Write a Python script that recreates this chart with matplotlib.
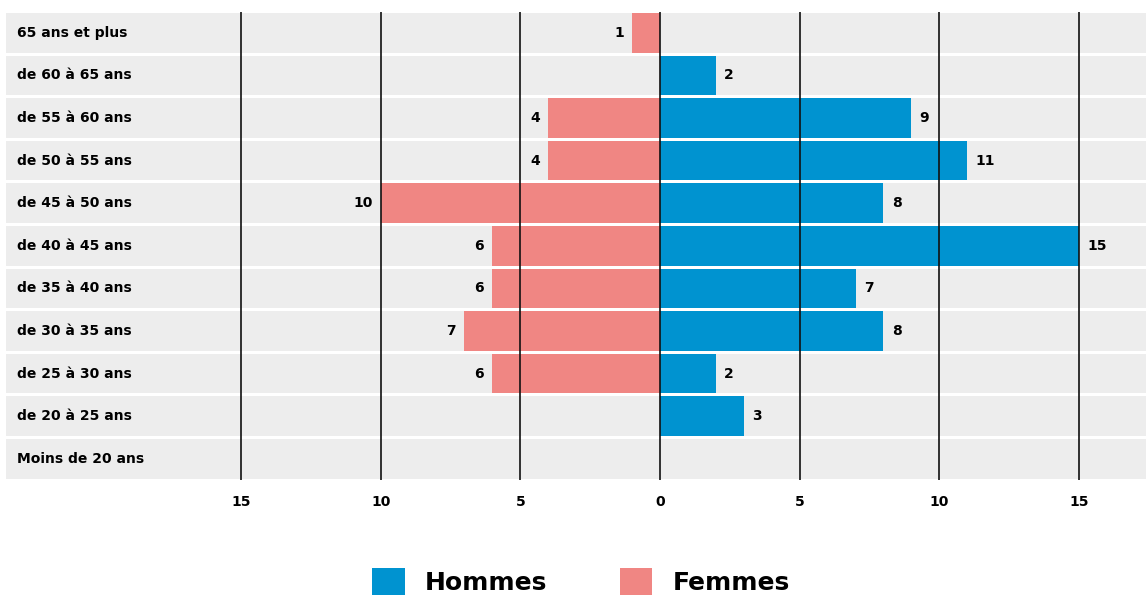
import matplotlib
matplotlib.use("Agg")
import matplotlib.pyplot as plt
from matplotlib.patches import Patch
from matplotlib.transforms import blended_transform_factory

plt.rcParams['font.family'] = ['DejaVu Sans']
plt.rcParams['font.weight'] = 'bold'

# age groups, top to bottom
categories = ["65 ans et plus", "de 60 à 65 ans", "de 55 à 60 ans", "de 50 à 55 ans",
              "de 45 à 50 ans", "de 40 à 45 ans", "de 35 à 40 ans", "de 30 à 35 ans",
              "de 25 à 30 ans", "de 20 à 25 ans", "Moins de 20 ans"]
hommes = [0, 2, 9, 11, 8, 15, 7, 8, 2, 3, 0]
femmes = [1, 0, 4, 4, 10, 6, 6, 7, 6, 0, 0]
xticks = [-15, -10, -5, 0, 5, 10, 15]
xticklabels = ["15", "10", "5", "0", "5", "10", "15"]

BLUE = "#0093d0"
PINK = "#f08683"
BAND = "#ededed"

fig = plt.figure(figsize=(11.46, 5.98), dpi=100)
ax = fig.add_axes([6 / 1146, 1 - 480 / 598, 1 - 6 / 1146, 468.5 / 598])

n = len(categories)
ypos = list(range(n - 1, -1, -1))
h = 0.93

# background bands
ax.barh(ypos, [60] * n, left=-30, height=h, color=BAND, zorder=0)
ax.barh(ypos, hommes, height=h, color=BLUE, zorder=1)
ax.barh(ypos, [-v for v in femmes], height=h, color=PINK, zorder=1)

for x in xticks:
    ax.axvline(x, color="#111111", lw=1.2, zorder=2)

for y, v in zip(ypos, hommes):
    if v:
        ax.annotate(str(v), (v, y), xytext=(6, 0), textcoords="offset points",
                    ha="left", va="center", fontsize=10, fontweight="bold")
for y, v in zip(ypos, femmes):
    if v:
        ax.annotate(str(v), (-v, y), xytext=(-6, 0), textcoords="offset points",
                    ha="right", va="center", fontsize=10, fontweight="bold")

trans = blended_transform_factory(ax.transAxes, ax.transData)
for y, c in zip(ypos, categories):
    ax.text(11 / 1140, y, c, transform=trans, ha="left", va="center",
            fontsize=10, fontweight="bold")

ax.set_xlim((6 - 660) / 27.93, (1146 - 660) / 27.93)
ax.set_ylim(-0.5, n - 0.5)
ax.set_xticks(xticks)
ax.set_xticklabels(xticklabels, fontsize=10, fontweight="bold")
ax.set_yticks([])
ax.tick_params(axis="x", length=0, pad=11)
for s in ax.spines.values():
    s.set_visible(False)

handles = [Patch(facecolor=BLUE, label="Hommes"), Patch(facecolor=PINK, label="Femmes")]
fig.legend(handles=handles, loc="center", bbox_to_anchor=(0.507, 0.027), ncol=2,
           frameon=False, prop={"size": 18, "weight": "bold"},
           handlelength=1.3, handleheight=1.3, handletextpad=0.8, columnspacing=2.9)

fig.savefig("out.png", dpi=100)
